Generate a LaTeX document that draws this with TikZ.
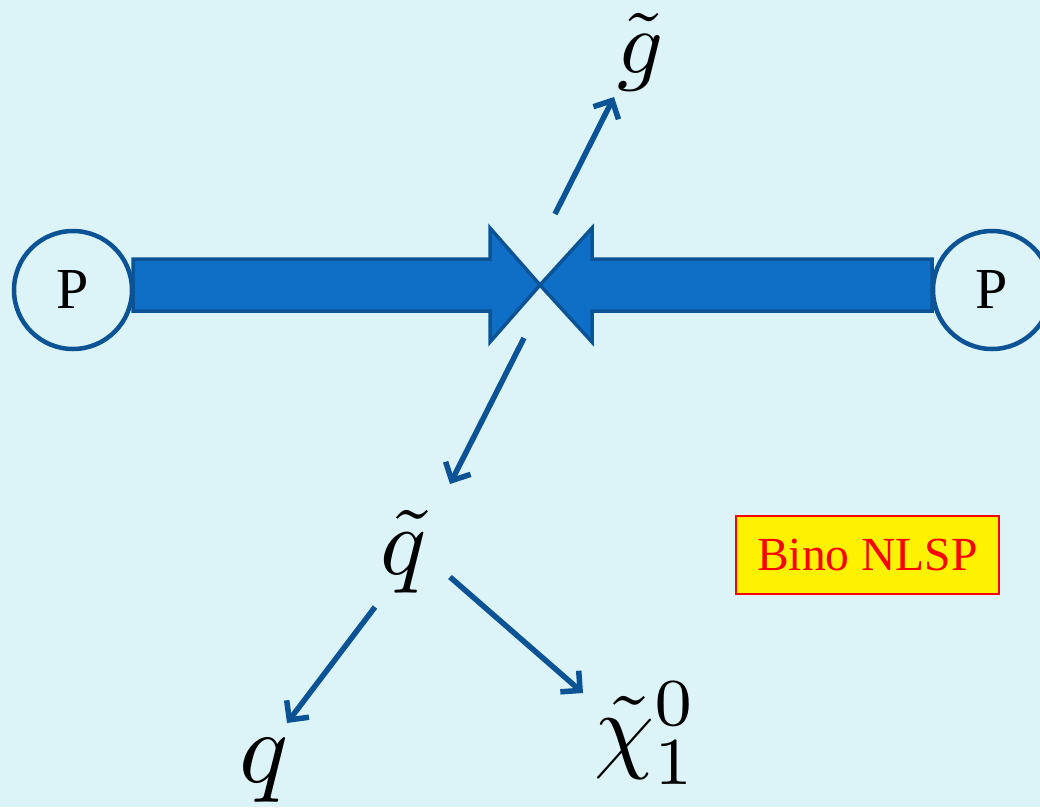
\documentclass[tikz,border=0pt]{standalone}
\usepackage{fontspec}
\newfontfamily\serifP{Liberation Serif}
\usetikzlibrary{arrows.meta}
\definecolor{bgc}{HTML}{DCF3F8}
\definecolor{fillblue}{HTML}{0F6FC6}
\definecolor{edgeblue}{HTML}{0B5394}
\definecolor{boxred}{HTML}{FF0000}
\newcommand{\bigmath}[2]{\scalebox{#1}{$#2$}}
\tikzset{
  proton/.style={circle, draw=edgeblue, line width=4.5pt, fill=bgc, minimum size=118pt, inner sep=0pt, font=\serifP\fontsize{58}{58}\selectfont},
  beam/.style={draw=edgeblue, fill=fillblue, line width=3.5pt, line join=miter},
  decay/.style={draw=edgeblue, line width=5.5pt, -{Straight Barb[length=14pt, width=28pt, line width=5.5pt]}},
  particle/.style={inner sep=0pt},
  label/.style={draw=boxred, line width=1.8pt, fill=yellow, text=boxred, minimum width=263pt, minimum height=78pt, inner sep=0pt, font=\serifP\fontsize{47.5}{47.5}\selectfont}
}
\begin{document}
\begin{tikzpicture}[x=1pt, y=-1pt]
\useasboundingbox (0,0) rectangle (1040,807);
\fill[bgc] (0,0) rectangle (1040,807);
% beams
\draw[beam] (133,259) -- (490,259) -- (490,228) -- (540,285) -- (490,342) -- (490,311) -- (133,311) -- cycle;
\draw[beam] (932,259) -- (592,259) -- (592,228) -- (540,285) -- (592,342) -- (592,311) -- (932,311) -- cycle;
% protons
\node[proton] (pl) at (73,290) {P};
\node[proton] (pr) at (992,290) {P};
% particles
\node[particle] (gl) at (641,52) {\bigmath{9}{\tilde{g}}};
\node[particle] (sq) at (404,552) {\bigmath{9.6}{\tilde{q}}};
\node[particle] (q) at (264,770) {\bigmath{10.2}{q}};
\node[particle] (chi) at (646,733) {\bigmath{9.6}{\tilde{\chi}^{0}_{1}}};
% label
\node[label] (bino) at (867.5,555) {Bino NLSP};
% decay arrows
\coordinate (c1s) at (555,214);
\coordinate (c1e) at (614,97);
\coordinate (c2s) at (524,338);
\coordinate (c2e) at (450,484);
\coordinate (c3s) at (375,607);
\coordinate (c3e) at (287,723);
\coordinate (c4s) at (450,577);
\coordinate (c4e) at (583,693);
\draw[decay] (c1s) -- (c1e);
\draw[decay] (c2s) -- (c2e);
\draw[decay] (c3s) -- (c3e);
\draw[decay] (c4s) -- (c4e);
\end{tikzpicture}
\end{document}
